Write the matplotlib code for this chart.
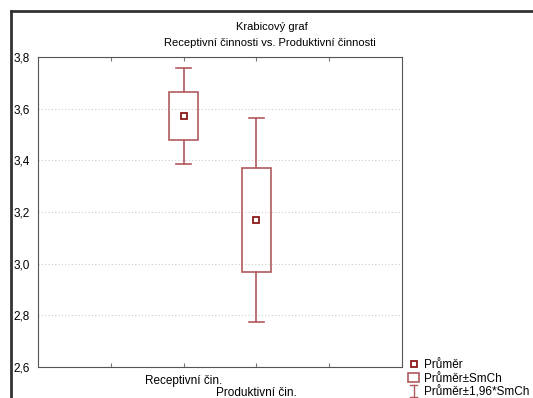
import matplotlib

matplotlib.use("Agg")
import matplotlib.pyplot as plt
from matplotlib.legend_handler import HandlerBase
from matplotlib.lines import Line2D
from matplotlib.patches import Rectangle

plt.rcParams["font.family"] = ["Liberation Sans", "DejaVu Sans"]
plt.rcParams["font.size"] = 8

# values
categories = ["Receptivní čin.", "Produktivní čin."]
means = [3.572, 3.170]
se_low = [3.479, 2.968]
se_high = [3.665, 3.370]
ci_low = [3.386, 2.775]
ci_high = [3.758, 3.564]
positions = [2, 3]
y_ticks = [2.6, 2.8, 3.0, 3.2, 3.4, 3.6, 3.8]
y_labels = ["2,6", "2,8", "3,0", "3,2", "3,4", "3,6", "3,8"]

LINE = "#b05a5e"
MEAN = "#8b1a1a"


class WhiskerHandler(HandlerBase):
    # small "I" glyph: vertical line with two caps
    def create_artists(self, legend, orig, xd, yd, width, height, fontsize, trans):
        cx = xd + width / 2
        top = yd + height + 1
        bot = yd - 1
        cw = width * 0.35
        arts = [
            Line2D([cx, cx], [bot, top]),
            Line2D([cx - cw, cx + cw], [top, top]),
            Line2D([cx - cw, cx + cw], [bot, bot]),
        ]
        for a in arts:
            a.set_color(LINE)
            a.set_linewidth(1.0)
            a.set_transform(trans)
        return arts


fig = plt.figure(figsize=(5.33, 3.98), dpi=100)
W, H = 533, 398
ax = fig.add_axes([38 / W, 1 - 367 / H, 364 / W, 310 / H])

box_w = 0.4
cap_w = 0.2
for x, m, lo, hi, clo, chi in zip(positions, means, se_low, se_high, ci_low, ci_high):
    ax.add_patch(Rectangle((x - box_w / 2, lo), box_w, hi - lo,
                           fill=False, edgecolor=LINE, lw=1.2, zorder=3))
    ax.plot([x, x], [hi, chi], color=LINE, lw=1.2, zorder=3)
    ax.plot([x, x], [clo, lo], color=LINE, lw=1.2, zorder=3)
    ax.plot([x - cap_w / 2, x + cap_w / 2], [chi, chi], color=LINE, lw=1.2, zorder=3)
    ax.plot([x - cap_w / 2, x + cap_w / 2], [clo, clo], color=LINE, lw=1.2, zorder=3)
    ax.plot([x], [m], marker="s", ms=4, mfc="white", mec=MEAN, mew=1.3,
            ls="none", zorder=4)

ax.set_xlim(0, 5)
ax.set_ylim(2.6, 3.8)
ax.set_yticks(y_ticks)
ax.set_yticklabels(y_labels, fontsize=8.5)
ax.set_xticks([1, 2, 3, 4])
ax.set_xticklabels([])
ax.tick_params(axis="x", direction="in", top=True, bottom=True, length=3, color="#777")
ax.tick_params(axis="y", length=0, pad=6)
ax.grid(axis="y", ls=(0, (1, 2)), color="#cccccc", lw=0.8)
for s in ax.spines.values():
    s.set_color("#555555")

# staggered category labels
ax.text(positions[0], -0.025, categories[0], transform=ax.get_xaxis_transform(),
        ha="center", va="top", fontsize=8.5)
ax.text(positions[1], -0.063, categories[1], transform=ax.get_xaxis_transform(),
        ha="center", va="top", fontsize=8.5)

fig.text(272 / W, 1 - 27 / H, "Krabicový graf", ha="center", va="center")
fig.text(270 / W, 1 - 43 / H, "Receptivní činnosti vs. Produktivní činnosti",
         ha="center", va="center")

# outer frame on the left and top
fig.add_artist(Line2D([11 / W, 11 / W], [0, 1 - 11 / H], color="#333333", lw=2))
fig.add_artist(Line2D([11 / W, 1], [1 - 11 / H, 1 - 11 / H], color="#333333", lw=2))

handles = [
    Line2D([], [], marker="s", ms=4, mfc="white", mec=MEAN, mew=1.3, ls="none"),
    Rectangle((0, 0), 1, 1, fill=False, edgecolor=LINE, lw=1.2),
    "whisker",
]
labels = ["Průměr", "Průměr±SmCh", "Průměr±1,96*SmCh"]
fig.legend(handles, labels, loc="upper left", bbox_to_anchor=(406 / W, 1 - 357 / H),
           frameon=False, handlelength=0.9, handleheight=0.8, handletextpad=0.45,
           labelspacing=0.12, borderaxespad=0, borderpad=0.2, fontsize=8.5,
           handler_map={str: WhiskerHandler()})

fig.savefig("out.png", dpi=100)
